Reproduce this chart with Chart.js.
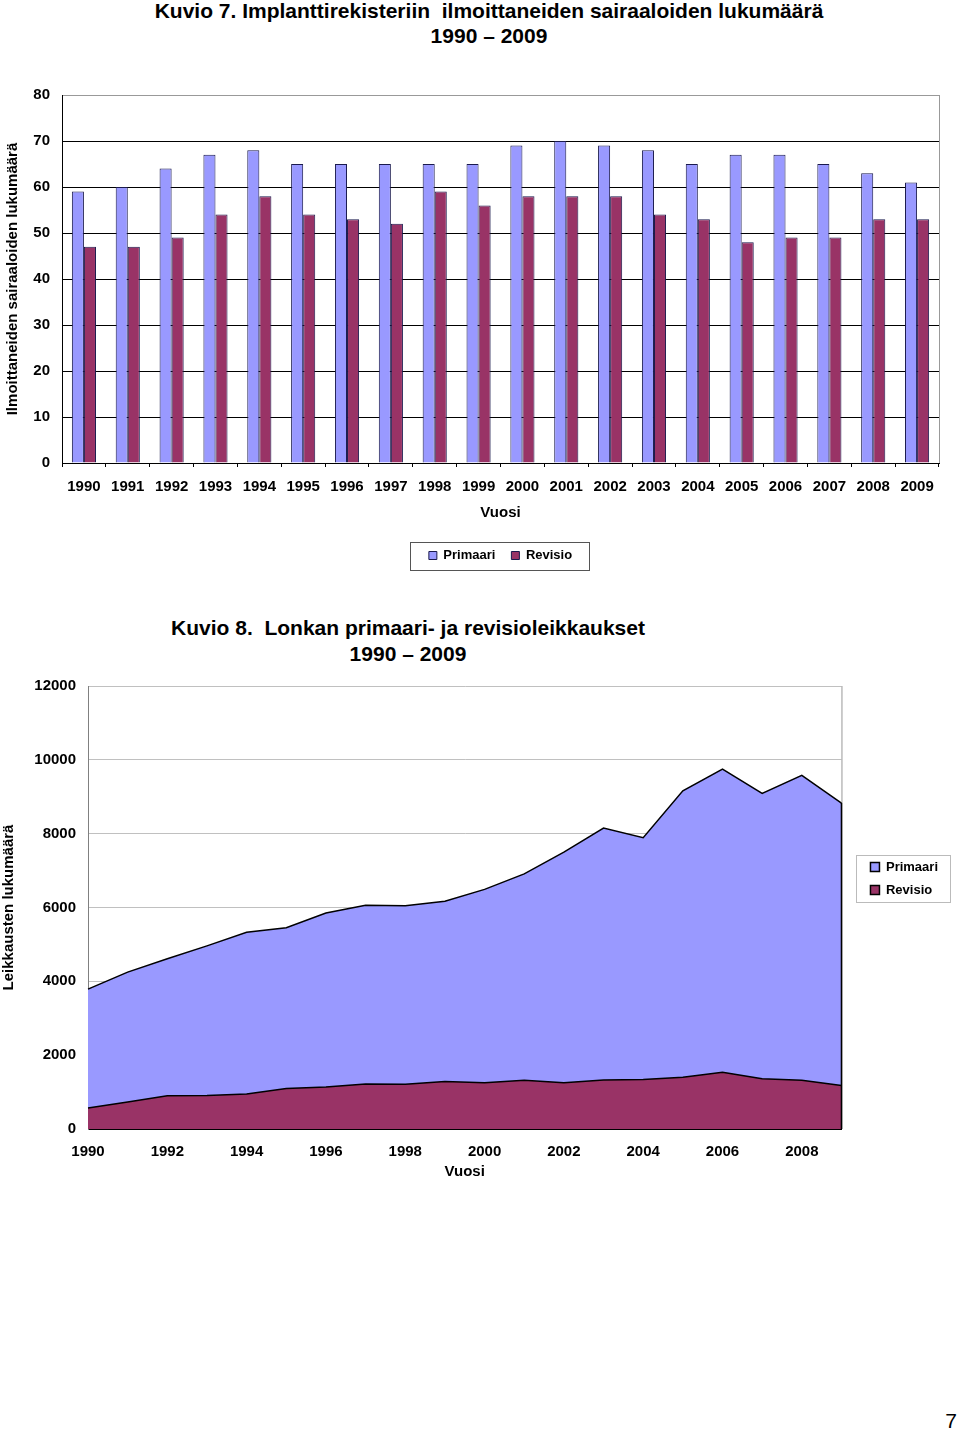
<!DOCTYPE html>
<html>
<head>
<meta charset="utf-8">
<script src="https://cdn.jsdelivr.net/npm/chart.js@4/dist/chart.umd.min.js"></script>
<style>
  body { margin: 0; background: #fff; width: 960px; height: 1432px; position: relative; overflow: hidden;
         font-family: "Liberation Sans", Arial, sans-serif; color: #000; }
  .title { position: absolute; text-align: center; font-weight: bold; font-size: 21px; white-space: pre; }
  .box { position: absolute; left: 0; }
  #pageNo { position: absolute; right: 3px; top: 1409px; font-size: 21px; }
</style>
</head>
<body>
<div class="title" style="left:0;width:978px;top:-2px;line-height:25px;">Kuvio 7. Implanttirekisteriin  ilmoittaneiden sairaaloiden lukumäärä
1990 – 2009</div>
<div class="box" style="top:74px;"><canvas id="bars" width="960" height="500"></canvas></div>

<div class="title" style="left:0;width:816px;top:615px;line-height:26px;">Kuvio 8.  Lonkan primaari- ja revisioleikkaukset
1990 – 2009</div>
<div class="box" style="top:665px;"><canvas id="areas" width="960" height="530"></canvas></div>

<div id="pageNo">7</div>

<script>
// Kuvio 7: sairaaloiden lukumäärä
const years = ["1990", "1991", "1992", "1993", "1994", "1995", "1996", "1997", "1998", "1999",
               "2000", "2001", "2002", "2003", "2004", "2005", "2006", "2007", "2008", "2009"];
const hospitalsPrimary = [59, 60, 64, 67, 68, 65, 65, 65, 65, 65, 69, 70, 69, 68, 65, 67, 67, 65, 63, 61];
const hospitalsRevision = [47, 47, 49, 54, 58, 54, 53, 52, 59, 56, 58, 58, 58, 54, 53, 48, 49, 49, 53, 53];

// Kuvio 8: lonkan leikkaukset
const hipPrimary = [3790, 4250, 4610, 4960, 5330, 5450, 5850, 6060, 6050, 6170,
                    6490, 6910, 7500, 8150, 7890, 9160, 9750, 9090, 9580, 8830];
const hipRevision = [570, 730, 900, 910, 950, 1100, 1140, 1220, 1210, 1290,
                     1250, 1320, 1250, 1330, 1340, 1400, 1540, 1360, 1320, 1180];

Chart.defaults.font.family = '"Liberation Sans", Arial, sans-serif';
Chart.defaults.color = "#000";
Chart.defaults.animation = false;

const boldFont = { size: 15, weight: "bold" };

// right edge of the plot area, gray like the Excel frame
const frame = {
  id: "frame",
  beforeDatasetsDraw(chart) {
    const { ctx, chartArea } = chart;
    ctx.save();
    ctx.strokeStyle = "#999";
    ctx.lineWidth = 1;
    ctx.beginPath();
    ctx.moveTo(chartArea.right + 0.5, chartArea.top);
    ctx.lineTo(chartArea.right + 0.5, chartArea.bottom);
    ctx.stroke();
    ctx.restore();
  }
};

// move legend and draw a box round it
const legendBox = {
  id: "legendBox",
  afterLayout(chart, args, opts) {
    const lg = chart.legend;
    lg.left += opts.dx || 0;
    lg.right += opts.dx || 0;
    lg.top += opts.dy || 0;
    lg.bottom += opts.dy || 0;
  },
  afterDraw(chart, args, opts) {
    const boxes = chart.legend.legendHitBoxes;
    if (!boxes || !boxes.length) return;
    const left = Math.min(...boxes.map(b => b.left)) - opts.padLeft;
    const right = Math.max(...boxes.map(b => b.left + b.width)) + opts.padRight;
    const top = Math.min(...boxes.map(b => b.top)) - opts.padTop;
    const bottom = Math.max(...boxes.map(b => b.top + b.height)) + opts.padBottom;
    const ctx = chart.ctx;
    ctx.save();
    ctx.strokeStyle = opts.color;
    ctx.lineWidth = 1;
    ctx.strokeRect(Math.round(left) + 0.5, Math.round(top) + 0.5, Math.round(right - left), Math.round(bottom - top));
    ctx.restore();
  }
};

new Chart(document.getElementById("bars"), {
  type: "bar",
  data: {
    labels: years,
    datasets: [
      { label: "Primaari", data: hospitalsPrimary, backgroundColor: "#9999ff", borderColor: "#1a1a4d", borderWidth: 1 },
      { label: "Revisio", data: hospitalsRevision, backgroundColor: "#993366", borderColor: "#1a1a4d", borderWidth: 1 }
    ]
  },
  options: {
    responsive: false,
    categoryPercentage: 0.55,
    barPercentage: 1,
    layout: { padding: { top: 8, right: 21, bottom: 2, left: 0 } },
    scales: {
      x: {
        grid: { display: true, drawOnChartArea: false, drawTicks: true, tickLength: 4, color: "#000", offset: true },
        border: { color: "#000" },
        ticks: { font: boldFont, padding: 11, maxRotation: 0, autoSkip: false },
        title: { display: true, text: "Vuosi", font: boldFont, padding: { top: 0, bottom: 11 } },
        afterFit: scale => { scale.height = 70; }
      },
      y: {
        min: 0,
        max: 80,
        ticks: { stepSize: 10, font: boldFont, padding: 12 },
        grid: { drawTicks: false, color: c => (c.tick && c.tick.value === 80 ? "#999" : "#000") },
        border: { color: "#000" },
        title: { display: true, text: "Ilmoittaneiden sairaaloiden lukumäärä", font: boldFont, padding: { top: 4, bottom: 0 } },
        afterFit: scale => { scale.width = 62; }
      }
    },
    plugins: {
      legend: {
        position: "bottom",
        fullSize: false,
        labels: { boxWidth: 8, boxHeight: 8, padding: 16, font: { size: 13, weight: "bold" } }
      },
      legendBox: { color: "#555", padLeft: 19, padRight: 17, padTop: 7, padBottom: 8 },
      tooltip: { enabled: false }
    }
  },
  plugins: [frame, legendBox]
});

// dark outline along the right end of the primary area
const areaEdge = {
  id: "areaEdge",
  afterDatasetsDraw(chart) {
    const pts = chart.getDatasetMeta(0).data;
    const last = pts[pts.length - 1];
    const ctx = chart.ctx;
    ctx.save();
    ctx.strokeStyle = "#000";
    ctx.lineWidth = 1.5;
    ctx.beginPath();
    ctx.moveTo(last.x, last.y);
    ctx.lineTo(last.x, chart.chartArea.bottom);
    ctx.stroke();
    ctx.restore();
  }
};

new Chart(document.getElementById("areas"), {
  type: "line",
  data: {
    labels: years,
    datasets: [
      { label: "Primaari", data: hipPrimary, fill: "origin", backgroundColor: "#9999ff", borderColor: "#000",
        borderWidth: 1.5, pointRadius: 0, order: 1 },
      { label: "Revisio", data: hipRevision, fill: "origin", backgroundColor: "#993366", borderColor: "#000",
        borderWidth: 1.5, pointRadius: 0, order: 0 }
    ]
  },
  options: {
    responsive: false,
    layout: { padding: { top: 9, right: 31, bottom: 14, left: 0 } },
    scales: {
      x: {
        grid: { display: false, drawTicks: false },
        border: { color: "#000" },
        ticks: { font: boldFont, padding: 14, maxRotation: 0, autoSkip: false,
                 callback: (v, i) => (i % 2 === 0 ? years[i] : "") },
        title: { display: true, text: "Vuosi", font: boldFont, padding: { top: 0, bottom: 0 } },
        afterFit: scale => { scale.height = 52; }
      },
      y: {
        min: 0,
        max: 12000,
        ticks: { stepSize: 2000, font: boldFont, padding: 12, callback: v => String(v) },
        grid: { drawTicks: false, color: "#c0c0c0" },
        border: { color: "#808080" },
        title: { display: true, text: "Leikkausten lukumäärä", font: boldFont, padding: { top: 0, bottom: 0 } },
        afterFit: scale => { scale.width = 88; }
      }
    },
    plugins: {
      legend: {
        position: "right",
        fullSize: false,
        labels: { boxWidth: 9, boxHeight: 9, padding: 10, font: { size: 13, weight: "bold" },
                  sort: (a, b) => a.datasetIndex - b.datasetIndex }
      },
      legendBox: { color: "#bbb", padLeft: 14, padRight: 12, padTop: 6, padBottom: 5, dx: 19, dy: -29 },
      tooltip: { enabled: false }
    }
  },
  plugins: [frame, legendBox, areaEdge]
});
</script>
</body>
</html>
